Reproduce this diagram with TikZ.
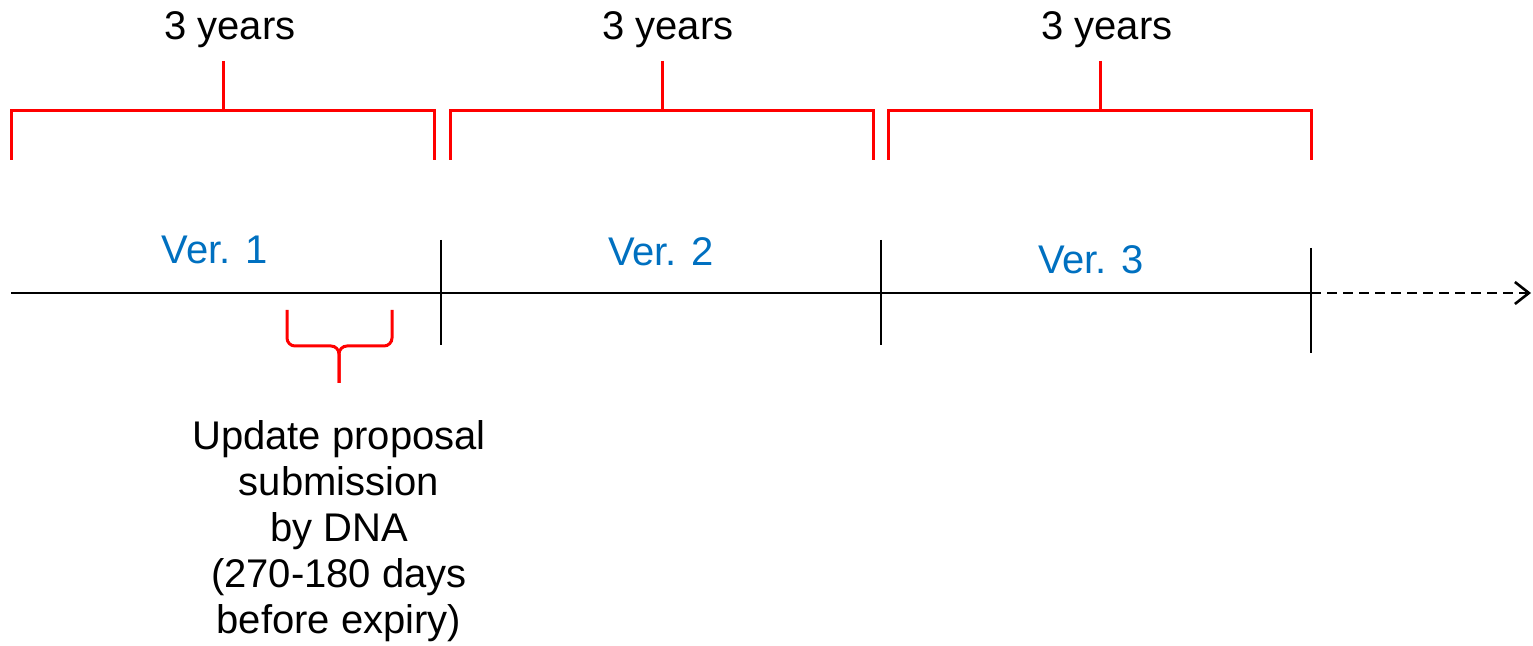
\documentclass[tikz,border=0pt]{standalone}
\usepackage{fontspec}
\setmainfont{Liberation Sans}
\usetikzlibrary{arrows.meta}
\definecolor{verblue}{RGB}{0,112,192}
\begin{document}
\begin{tikzpicture}[x=0.5pt,y=-0.5pt,
  bracket/.style={draw=red,line width=1.5pt},
  axis/.style={draw=black,line width=1.1pt},
  yrs/.style={font=\fontsize{20}{23}\selectfont,inner sep=0,anchor=base},
  ver/.style={font=\fontsize{20}{23}\selectfont,text=verblue,inner sep=0,anchor=base},
  note/.style={font=\fontsize{20}{23}\selectfont,inner sep=0,anchor=north,align=center}]
\useasboundingbox (0,0) rectangle (1533,646);
% brackets
\foreach \l/\r/\m/\n in {11/434/223/1,450/873/662/2,888/1311/1100/3}{
  \coordinate (bl\n) at (\l,160);
  \coordinate (br\n) at (\r,160);
  \coordinate (bs\n) at (\m,61);
  \coordinate (bm\n) at (\m,111);
  \draw[bracket] (bl\n) |- (br\n |- bm\n) -- (br\n);
  \draw[bracket] (bs\n) -- (bm\n);
}
\node[yrs] (y1) at (230,40) {3 years};
\node[yrs] (y2) at (668,40) {3 years};
\node[yrs] (y3) at (1107,40) {3 years};
% timeline
\coordinate (t0) at (11,293);
\coordinate (t1) at (441,293);
\coordinate (t2) at (881,293);
\coordinate (t3) at (1311,293);
\coordinate (tend) at (1531,293);
\draw[axis] (t0) -- (t3);
\draw[axis,dash pattern=on 5pt off 3pt,-{Straight Barb[length=7pt,width=11pt,line width=1.3pt]}] (t3) -- (tend);
\draw[axis] (441,240) -- (441,345);
\draw[axis] (881,240) -- (881,345);
\draw[axis] (1311,248) -- (1311,353);
\node[ver] (v1) at (215,264) {Ver. 1};
\node[ver] (v2) at (661,266) {Ver. 2};
\node[ver] (v3) at (1091,274) {Ver. 3};
% small brace
\coordinate (sl) at (287,310);
\coordinate (sr) at (392,310);
\coordinate (sc) at (339,346);
\coordinate (sb) at (339,383);
\draw[bracket,rounded corners=4pt] (sl) |- (sc) -- (sb);
\draw[bracket,rounded corners=4pt] (sr) |- (sc) -- (sb);
\node[note] (upd) at (339,420) {Update proposal\\submission\\by DNA\\(270-180 days\\before expiry)};
\end{tikzpicture}
\end{document}
